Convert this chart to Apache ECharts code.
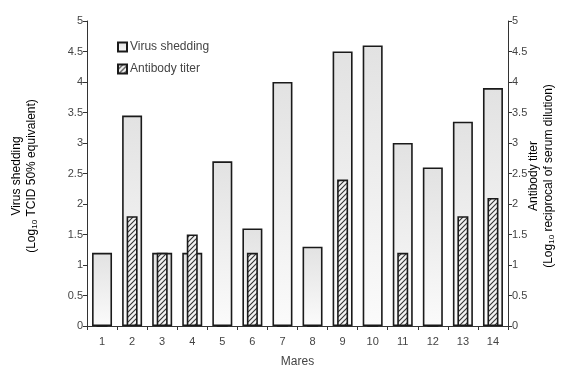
<!DOCTYPE html>
<html>
<head>
<meta charset="utf-8">
<script src="https://cdn.jsdelivr.net/npm/echarts@6/dist/echarts.min.js"></script>
<style>
  html, body { margin: 0; padding: 0; background: #fff; }
  #chart { width: 569px; height: 373px; }
</style>
</head>
<body>
<div id="chart"></div>
<script>
// Mares 1-14: virus shedding vs. antibody titer
const mares = ['1','2','3','4','5','6','7','8','9','10','11','12','13','14'];
const virusShedding = [1.2, 3.45, 1.2, 1.2, 2.7, 1.6, 4.0, 1.3, 4.5, 4.6, 3.0, 2.6, 3.35, 3.9];
const antibodyTiter = [0, 1.8, 1.2, 1.5, 0, 1.2, 0, 0, 2.4, 0, 1.2, 0, 1.8, 2.1];
const yTicks = [0, 0.5, 1, 1.5, 2, 2.5, 3, 3.5, 4, 4.5, 5];

// diagonal hatch fill for the antibody bars
function hatchPattern() {
  const c = document.createElement('canvas');
  const s = 5;
  c.width = s; c.height = s;
  const g = c.getContext('2d');
  g.fillStyle = '#f2f2f2';
  g.fillRect(0, 0, s, s);
  g.strokeStyle = '#333';
  g.lineWidth = 1.1;
  g.beginPath();
  g.moveTo(0, s); g.lineTo(s, 0);
  g.moveTo(-1, 1); g.lineTo(1, -1);
  g.moveTo(s - 1, s + 1); g.lineTo(s + 1, s - 1);
  g.stroke();
  return c;
}

const textColor = '#444';
const font = 'Liberation Sans, Arial, sans-serif';

const chart = echarts.init(document.getElementById('chart'), null, { renderer: 'canvas' });

const axisCommon = {
  type: 'value',
  min: yTicks[0],
  max: yTicks[yTicks.length - 1],
  interval: 0.5,
  splitLine: { show: false },
  axisLine: { show: true, lineStyle: { color: '#333', width: 1 } },
  axisTick: { show: true, length: 4, lineStyle: { color: '#333' } },
  axisLabel: { color: textColor, fontSize: 11, fontFamily: font, margin: 4 }
};

const titleRich = {
  t: { fontSize: 12, fontFamily: font, color: textColor, lineHeight: 15 },
  s: { fontSize: 8, fontFamily: font, color: textColor, lineHeight: 15, padding: [7, 0, 0, 0] }
};

chart.setOption({
  animation: false,
  backgroundColor: '#fff',
  textStyle: { fontFamily: font },
  grid: { left: 87, right: 61, top: 21, bottom: 42 },
  legend: {
    orient: 'vertical',
    left: 112,
    top: 36,
    icon: 'rect',
    itemWidth: 9,
    itemHeight: 9,
    itemGap: 10,
    textStyle: { color: textColor, fontSize: 12, fontFamily: font, padding: [0, 0, 0, -2] },
    data: ['Virus shedding', 'Antibody titer']
  },
  xAxis: [
    {
      type: 'category',
      data: mares,
      name: 'Mares',
      nameLocation: 'middle',
      nameGap: 30,
      nameTextStyle: { color: textColor, fontSize: 12, fontFamily: font },
      axisLine: { lineStyle: { color: '#333', width: 1 } },
      axisTick: { show: true, length: 4, alignWithLabel: false, lineStyle: { color: '#333' } },
      axisLabel: { color: textColor, fontSize: 11, fontFamily: font, margin: 10 }
    },
    {
      type: 'category',
      data: mares,
      show: false
    }
  ],
  yAxis: [
    Object.assign({}, axisCommon, { position: 'left' }),
    Object.assign({}, axisCommon, { position: 'right' })
  ],
  graphic: [
    {
      type: 'text',
      x: 24, y: 176,
      rotation: Math.PI / 2,
      style: {
        text: '{t|Virus shedding}\n{t|(Log}{s|10}{t| TCID 50% equivalent)}',
        rich: titleRich,
        align: 'center',
        verticalAlign: 'middle'
      }
    },
    {
      type: 'text',
      x: 541, y: 176,
      rotation: Math.PI / 2,
      style: {
        text: '{t|Antibody titer}\n{t|(Log}{s|10}{t| reciprocal of serum dilution)}',
        rich: titleRich,
        align: 'center',
        verticalAlign: 'middle'
      }
    }
  ],
  series: [
    {
      name: 'Virus shedding',
      type: 'bar',
      xAxisIndex: 0,
      yAxisIndex: 0,
      barWidth: 20,
      data: virusShedding,
      itemStyle: {
        color: new echarts.graphic.LinearGradient(0, 0, 0, 1, [
          { offset: 0, color: '#e2e2e2' },
          { offset: 1, color: '#fbfbfb' }
        ]),
        borderColor: '#1a1a1a',
        borderWidth: 1.6
      }
    },
    {
      name: 'Antibody titer',
      type: 'bar',
      xAxisIndex: 1,
      yAxisIndex: 1,
      barWidth: 11,
      data: antibodyTiter,
      itemStyle: {
        color: { image: hatchPattern(), repeat: 'repeat' },
        borderColor: '#1a1a1a',
        borderWidth: 1.6
      }
    }
  ]
});
</script>
</body>
</html>
